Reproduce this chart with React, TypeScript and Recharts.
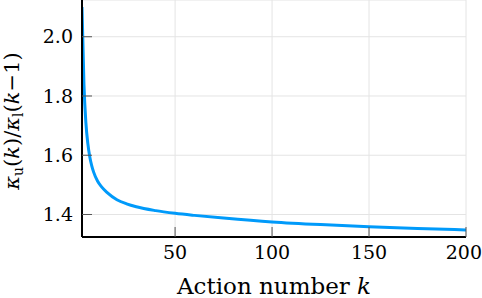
import { LineChart, Line, XAxis, YAxis, CartesianGrid } from "recharts";

const actionNumbers = [2, 3, 4, 5, 6, 7, 8, 10, 12, 15, 20, 25, 30, 40, 50, 60, 75, 100, 125, 150, 175, 200];
const ratioValues = [
  2.1, 1.84, 1.71, 1.64, 1.595, 1.565, 1.543, 1.513, 1.494, 1.474, 1.45, 1.436, 1.426, 1.413, 1.404,
  1.397, 1.388, 1.375, 1.366, 1.359, 1.353, 1.348,
];
const xTicks = [50, 100, 150, 200];
const yTicks = [1.4, 1.6, 1.8, 2.0];

const chartData = actionNumbers.map((k, i) => ({ k, ratio: ratioValues[i] }));

const FONT = '"DejaVu Serif", "Liberation Serif", serif';
const tickStyle = { fill: "#000", fontSize: 19, fontFamily: FONT, style: { fontFamily: FONT } };

function YLabel() {
  const cx = 19;
  const cy = 121;
  return (
    <text
      x={cx}
      y={cy}
      transform={`rotate(-90, ${cx}, ${cy})`}
      textAnchor="middle"
      style={{ fontFamily: FONT, fontSize: 21 }}
      fill="#000"
    >
      <tspan fontStyle="italic">κ</tspan>
      <tspan fontSize={14} dy={4}>u</tspan>
      <tspan dy={-4}>(</tspan>
      <tspan fontStyle="italic">k</tspan>
      <tspan>)/</tspan>
      <tspan fontStyle="italic">κ</tspan>
      <tspan fontSize={14} dy={4}>l</tspan>
      <tspan dy={-4}>(</tspan>
      <tspan fontStyle="italic">k</tspan>
      <tspan>−1)</tspan>
    </text>
  );
}

function XLabel() {
  return (
    <text
      x={274}
      y={294}
      textAnchor="middle"
      style={{ fontFamily: FONT, fontSize: 23 }}
      fill="#000"
    >
      <tspan>Action number </tspan>
      <tspan fontStyle="italic">k</tspan>
    </text>
  );
}

export default function App() {
  return (
    <div style={styles.wrap}>
      <LineChart
        width={482}
        height={298}
        data={chartData}
        margin={{ top: 0, right: 16, bottom: 0, left: 0 }}
        style={{ fontFamily: FONT }}
      >
        <CartesianGrid stroke="#e4e4e4" strokeWidth={1} />
        <XAxis
          dataKey="k"
          type="number"
          domain={[2, 200]}
          ticks={xTicks}
          allowDataOverflow
          height={61}
          stroke="#000"
          strokeWidth={2}
          tickSize={-10}
          tickMargin={19}
          tickLine={{ stroke: "#555", strokeWidth: 1 }}
          tick={tickStyle}
          label={{ content: () => <XLabel /> }}
        />
        <YAxis
          type="number"
          domain={[1.324, 2.124]}
          ticks={yTicks}
          allowDataOverflow
          width={82}
          stroke="#000"
          strokeWidth={2}
          tickSize={-10}
          tickMargin={19}
          tickLine={{ stroke: "#555", strokeWidth: 1 }}
          tickFormatter={(v: number) => v.toFixed(1)}
          tick={tickStyle}
          label={{ content: () => <YLabel /> }}
        />
        <Line
          type="monotone"
          dataKey="ratio"
          stroke="#009AFA"
          strokeWidth={3}
          dot={false}
          isAnimationActive={false}
        />
      </LineChart>
    </div>
  );
}

const styles: Record<string, React.CSSProperties> = {
  wrap: {
    position: "absolute",
    left: 0,
    top: 0,
    width: 482,
    height: 298,
    background: "#fff",
    fontFamily: FONT,
  },
};
